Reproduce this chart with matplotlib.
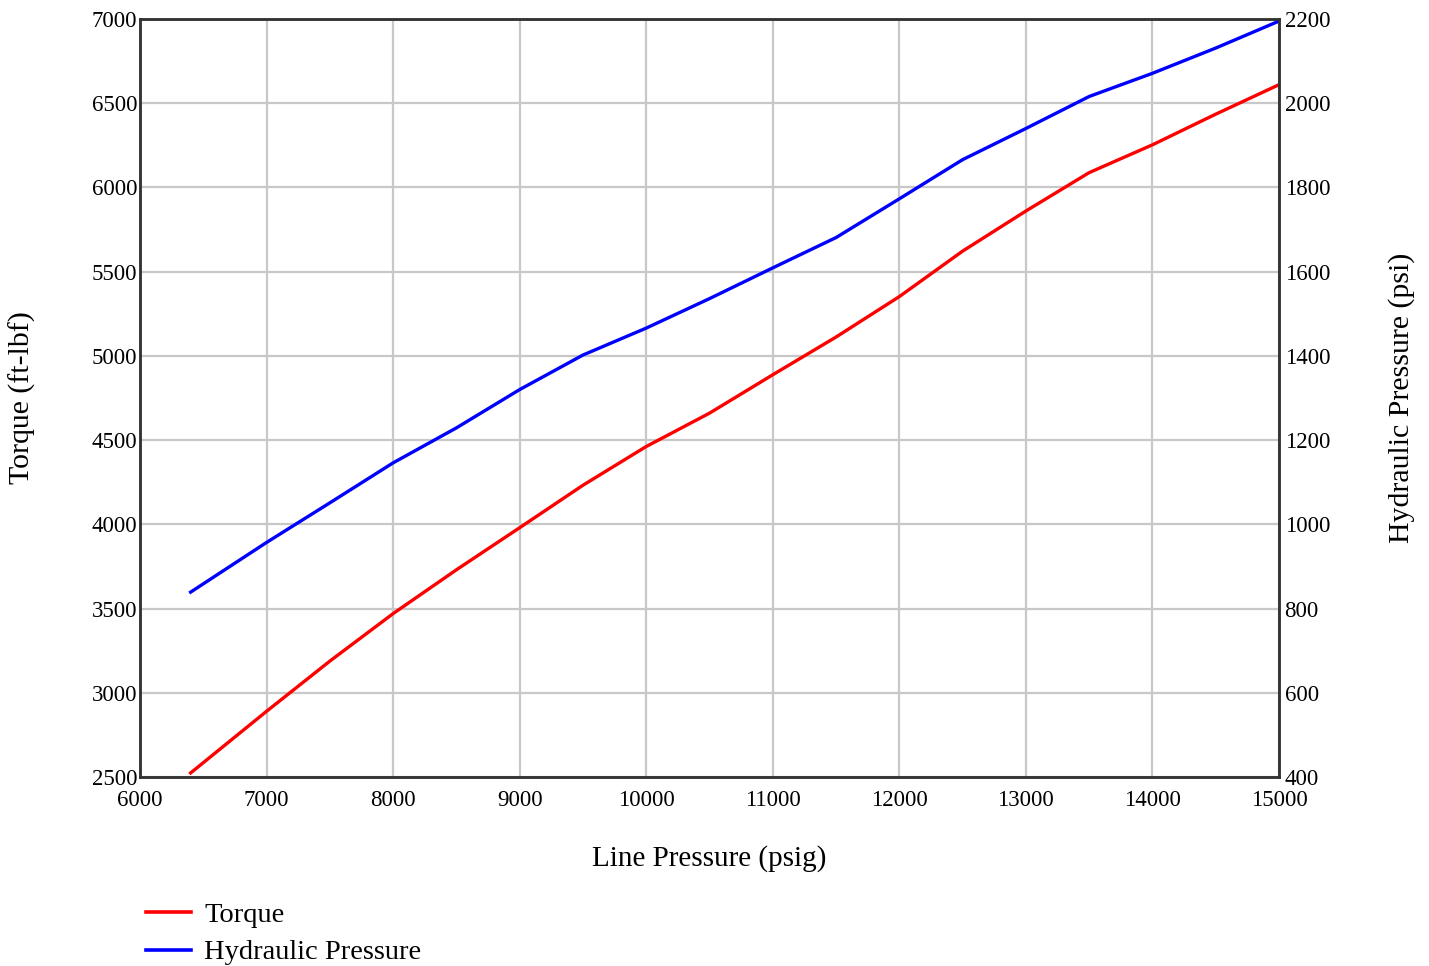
import matplotlib.pyplot as plt
from matplotlib.lines import Line2D

plt.rcParams['font.family'] = ['Liberation Serif', 'DejaVu Serif']

# values
line_pressure = [6400, 7000, 7500, 8000, 8500, 9000, 9500, 10000, 10500, 11000,
                 11500, 12000, 12500, 13000, 13500, 14000, 14500, 15000]
torque = [2524, 2890, 3188, 3470, 3730, 3980, 4232, 4462, 4660, 4888,
          5112, 5352, 5622, 5860, 6088, 6253, 6435, 6610]
hyd_pressure = [839, 957, 1051, 1146, 1229, 1320, 1402, 1466, 1536, 1609,
                1681, 1773, 1866, 1940, 2016, 2071, 2131, 2195]

x_ticks = list(range(6000, 15001, 1000))
torque_ticks = list(range(2500, 7001, 500))
hyd_ticks = list(range(400, 2201, 200))

fig = plt.figure(figsize=(14.29, 9.66), dpi=100)
ax = fig.add_axes([140 / 1429, 1 - 777 / 966, (1279 - 140) / 1429, (777 - 19) / 966])
ax2 = ax.twinx()

ax.plot(line_pressure, torque, color='#ff0000', lw=2.4)
ax2.plot(line_pressure, hyd_pressure, color='#0000ff', lw=2.4)

ax.set_xlim(6000, 15000)
ax.set_ylim(2500, 7000)
ax2.set_ylim(400, 2200)
ax.set_xticks(x_ticks)
ax.set_yticks(torque_ticks)
ax2.set_yticks(hyd_ticks)

ax.grid(True, color='#c8c8c8', lw=1.6)
ax.set_axisbelow(True)

for a in (ax, ax2):
    a.tick_params(length=0, labelsize=16.5)
    for s in a.spines.values():
        s.set_color('#333333')
        s.set_linewidth(1.8)
ax.tick_params(axis='y', pad=2)
ax.tick_params(axis='x', pad=9)
ax2.tick_params(axis='y', pad=4)

ax.set_xlabel('Line Pressure (psig)', fontsize=21, labelpad=25)
ax.set_ylabel('Torque (ft-lbf)', fontsize=21.5, labelpad=40)
ax2.set_ylabel('Hydraulic Pressure (psi)', fontsize=21.5, rotation=90, labelpad=42)

handles = [Line2D([], [], color='#ff0000', lw=2.6),
           Line2D([], [], color='#0000ff', lw=2.6)]
fig.legend(handles, ['Torque', 'Hydraulic Pressure'], loc='lower left',
           bbox_to_anchor=(120 / 1429, -0.026), frameon=False, fontsize=20.5,
           handlelength=1.6, handletextpad=0.45, labelspacing=0.42)

fig.savefig('out.png', dpi=100)
